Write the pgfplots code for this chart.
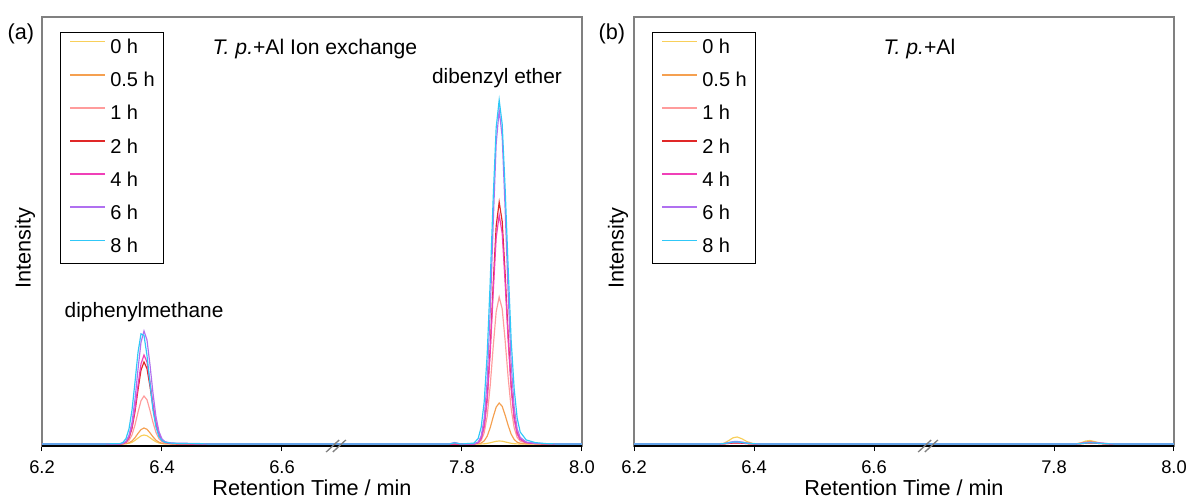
\documentclass[border=0pt]{standalone}
\usepackage{fontspec}
\setmainfont{Liberation Sans}
\usepackage{pgfplots}
\usepackage{pgfplotstable}
\pgfplotsset{compat=1.18}

\definecolor{c0}{HTML}{F8CF5A}
\definecolor{c05}{HTML}{F5A050}
\definecolor{c1}{HTML}{FF9C9C}
\definecolor{c2}{HTML}{E02828}
\definecolor{c4}{HTML}{F040B8}
\definecolor{c6}{HTML}{B070F0}
\definecolor{c8}{HTML}{30C8F8}

% retention time axis is broken: 7.6-8.0 min is plotted at 6.7-7.1
\pgfplotstableread{
t h0 h05 h1 h2 h4 h6 h8
6.200 0 0 0 0 0 0 0
6.300 0 0 0 0 0 0 0
6.330 0 0 0 0 0 0 0.4
6.335 0.05 0.1 0.3 0.5 0.5 0.7 1.6
6.340 0.2 0.4 1.2 2.0 2.1 2.7 5.5
6.345 0.7 1.2 3.6 6.2 6.8 8.6 15.1
6.350 1.7 3.0 9.1 15.6 16.9 21.5 33.9
6.355 3.6 6.3 19.0 32.4 35.2 44.6 61.8
6.360 5.9 10.6 31.7 54.1 58.7 74.6 91.5
6.365 8.1 14.4 43.2 73.8 80.1 101.7 110.2
6.370 9 16 48 82 89 113 108.6
6.375 8.3 14.7 44.2 75.4 81.9 104.0 88.5
6.380 6.3 11.2 33.6 57.4 62.3 79.1 60.5
6.385 4.1 7.2 21.6 36.9 40.1 50.9 33.6
6.390 2.2 3.8 11.5 19.7 21.4 27.1 16.8
6.395 1.0 1.8 5.3 9.0 9.8 12.4 7.3
6.400 0.4 0.7 2.2 3.7 4.0 5.1 3.4
6.405 0.2 0.3 1.0 1.6 1.8 2.3 1.7
6.415 0.05 0.1 0.3 0.5 0.5 1.0 0.9
6.430 0 0 0.1 0.2 0.2 0.8 0.5
6.460 0 0 0 0 0 0.5 0.3
6.480 0 0 0 0 0 0 0
6.878 0 0 0 0 0 0 0
6.888 0 0 0 0 0 1.5 1.2
6.898 0 0 0 0 0 0 0
6.920 0 0 0 0 0 0 0.9
6.927 0.02 0.25 0.9 1.5 1.4 2.0 5.6
6.932 0.07 1.0 3.5 5.8 5.5 8.0 16.9
6.937 0.2 3.1 11.2 18.4 17.4 25.4 42.0
6.942 0.6 7.8 27.9 46.0 43.5 63.5 89.8
6.947 1.2 16.2 58.1 95.6 90.5 131.9 161.7
6.952 2.0 27.1 97.0 159.7 151.1 220.4 246.0
6.957 2.7 36.9 132.3 217.8 206.1 300.6 316.5
6.962 3 41 147 242 229 334 344
6.967 2.8 37.7 135.2 222.6 210.7 307.3 319.9
6.972 2.1 28.7 102.9 169.4 160.3 233.8 254.6
6.977 1.4 18.5 66.2 108.9 103.1 150.3 175.4
6.982 0.7 9.8 35.3 58.1 55.0 80.2 103.2
6.987 0.3 4.5 16.2 26.6 25.2 36.7 55.0
6.992 0.1 1.8 6.6 10.9 10.3 15.0 25.8
6.997 0.06 0.8 2.9 4.8 4.6 6.7 12.0
7.007 0.02 0.25 0.9 1.5 1.4 2.0 4.1
7.022 0 0.1 0.3 0.5 0.5 0.7 1.4
7.040 0 0 0.1 0.2 0.2 0.3 0.4
7.060 0 0 0 0 0 0 0
7.100 0 0 0 0 0 0 0
}\tabA

\pgfplotstableread{
t h0 h05 h1 h2 h4 h6 h8
6.200 0 0 0 0 0 0 0
6.340 0 0 0 0 0 0 0
6.350 0.8 0.3 0.2 0.2 0.3 0.5 0.4
6.358 3.5 0.9 0.6 0.6 0.9 1.6 1.2
6.365 6.2 1.4 0.9 0.9 1.4 2.4 1.9
6.372 7 1.5 1 1 1.5 2.5 2
6.380 5.2 1.2 0.8 0.8 1.2 2.0 1.6
6.388 2.5 0.6 0.4 0.4 0.6 1.1 0.8
6.398 0.6 0.2 0.1 0.1 0.2 0.4 0.3
6.410 0 0 0 0 0 0.1 0
6.420 0 0 0 0 0 0 0
6.935 0 0 0 0 0 0 0
6.945 1.2 0.8 0.3 0.3 0.6 0.6 0.4
6.953 3 2 0.8 0.8 1.3 1.5 1
6.960 3.5 2.5 1 1 1.5 1.8 1.2
6.968 2.4 1.8 0.8 0.8 1.3 1.5 1
6.978 0.8 0.7 0.4 0.4 0.8 0.9 0.6
6.990 0.1 0.1 0.1 0.1 0.3 0.4 0.2
7.005 0 0 0 0 0 0 0
7.100 0 0 0 0 0 0 0
}\tabB

\pgfplotsset{
  chrom/.style={
    scale only axis, width=324pt, height=257.4pt,
    xmin=6.2, xmax=7.1, ymin=-2, ymax=427,
    xtick={6.2,6.4,6.6,6.9,7.1},
    xticklabels={6.2,6.4,6.6,7.8,8.0},
    ytick=\empty,
    xtick pos=left, tick align=outside,
    major tick length=3pt,
    every tick/.style={black, line width=0.6pt},
    axis line style={draw=gray, line width=0.9pt},
    /pgf/number format/assume math mode=true,
    tick label style={font=\fontsize{11}{11}\selectfont},
    xticklabel style={yshift=-2.2pt},
    clip mode=individual,
    legend cell align=left,
    legend style={at={(0.0333,0.965)}, anchor=north west, draw=black, line width=0.6pt,
      font=\fontsize{12}{12}\selectfont, inner xsep=5.4pt, inner ysep=3.6pt,
      row sep=7.9pt, nodes={inner sep=0pt, text height=9pt, text depth=3pt},
      /tikz/every odd column/.append style={column sep=2.4pt}},
    legend image code/.code={\draw[#1, line width=1.1pt] (0pt,4.2pt) -- (21pt,4.2pt);},
    every axis plot/.append style={line width=0.7pt},
  }
}

\begin{document}
\begin{tikzpicture}
\useasboundingbox (-25.2pt,-32.4pt) rectangle (688.2pt,267.6pt);
% ---------------- panel (a)
\begin{axis}[chrom, at={(0pt,0pt)}, anchor=south west]
\addplot[c0]  table[x=t,y=h0]  {\tabA};
\addplot[c05] table[x=t,y=h05] {\tabA};
\addplot[c1]  table[x=t,y=h1]  {\tabA};
\addplot[c2]  table[x=t,y=h2]  {\tabA};
\addplot[c4]  table[x=t,y=h4]  {\tabA};
\addplot[c6]  table[x=t,y=h6]  {\tabA};
\addplot[c8]  table[x=t,y=h8]  {\tabA};
\legend{0 h,0.5 h,1 h,2 h,4 h,6 h,8 h}
\draw[black, line width=0.8pt] (rel axis cs:0,0) -- (rel axis cs:1,0);
\draw[gray, line width=0.8pt] ([xshift=-2pt]axis cs:6.69,-2) ++(-3.9pt,-3.6pt) -- ++(7.8pt,7.2pt);
\draw[gray, line width=0.8pt] ([xshift=2pt]axis cs:6.69,-2) ++(-3.9pt,-3.6pt) -- ++(7.8pt,7.2pt);
\node[font=\fontsize{12.7}{12.7}\selectfont] at (rel axis cs:0.5056,0.926) {\textit{T. p.}+Al Ion exchange};
\node[font=\fontsize{12.5}{12.5}\selectfont] at (rel axis cs:0.8426,0.858) {dibenzyl ether};
\node[font=\fontsize{12.5}{12.5}\selectfont] at (rel axis cs:0.189,0.313) {diphenylmethane};
\node[font=\fontsize{13}{13}\selectfont, rotate=90] at (rel axis cs:-0.0315,0.4615) {Intensity};
\node[font=\fontsize{13}{13}\selectfont, anchor=east] at (rel axis cs:0,0.96) [xshift=-1.2pt] {(a)};
\node[font=\fontsize{13}{13}\selectfont] at (rel axis cs:0.5,0) [yshift=-25.2pt] {Retention Time / min};
\end{axis}
% ---------------- panel (b)
\begin{axis}[chrom, at={(355.2pt,0pt)}, anchor=south west]
\addplot[c0]  table[x=t,y=h0]  {\tabB};
\addplot[c05] table[x=t,y=h05] {\tabB};
\addplot[c1]  table[x=t,y=h1]  {\tabB};
\addplot[c2]  table[x=t,y=h2]  {\tabB};
\addplot[c4]  table[x=t,y=h4]  {\tabB};
\addplot[c6]  table[x=t,y=h6]  {\tabB};
\addplot[c8]  table[x=t,y=h8]  {\tabB};
\legend{0 h,0.5 h,1 h,2 h,4 h,6 h,8 h}
\draw[black, line width=0.8pt] (rel axis cs:0,0) -- (rel axis cs:1,0);
\draw[gray, line width=0.8pt] ([xshift=-2pt]axis cs:6.69,-2) ++(-3.9pt,-3.6pt) -- ++(7.8pt,7.2pt);
\draw[gray, line width=0.8pt] ([xshift=2pt]axis cs:6.69,-2) ++(-3.9pt,-3.6pt) -- ++(7.8pt,7.2pt);
\node[font=\fontsize{12.7}{12.7}\selectfont] at (rel axis cs:0.5287,0.926) {\textit{T. p.}+Al};
\node[font=\fontsize{13}{13}\selectfont, rotate=90] at (rel axis cs:-0.0296,0.4615) {Intensity};
\node[font=\fontsize{13}{13}\selectfont, anchor=east] at (rel axis cs:0,0.96) [xshift=-1.8pt] {(b)};
\node[font=\fontsize{13}{13}\selectfont] at (rel axis cs:0.5,0) [yshift=-25.2pt] {Retention Time / min};
\end{axis}
\end{tikzpicture}
\end{document}
